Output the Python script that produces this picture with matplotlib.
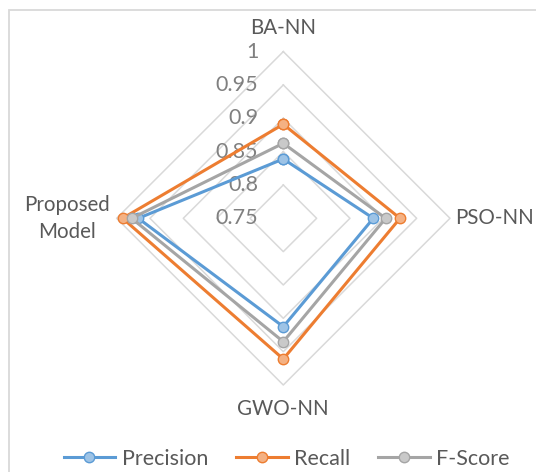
import numpy as np
import matplotlib.pyplot as plt
from matplotlib.patches import Rectangle

categories = ["BA-NN", "PSO-NN", "GWO-NN", "Proposed\nModel"]
precision = [0.839, 0.885, 0.9125, 0.9675]
recall = [0.891, 0.925, 0.961, 0.991]
f_score = [0.8625, 0.9035, 0.935, 0.9775]
levels = [0.75, 0.8, 0.85, 0.9, 0.95, 1.0]
level_labels = ["0.75", "0.8", "0.85", "0.9", "0.95", "1"]

series = [
    ("Precision", precision, "#5B9BD5", "#9DC3E6"),
    ("Recall", recall, "#ED7D31", "#F4B183"),
    ("F-Score", f_score, "#A5A5A5", "#C9C9C9"),
]

plt.rcParams["font.family"] = ["Lato", "DejaVu Sans"]
FS = 15.5
FS_CAT = 14.8

W, H, DPI = 536, 472, 100
fig = plt.figure(figsize=(W / DPI, H / DPI), dpi=DPI)

# chart-area border (top and left edges only visible)
fig.patches.append(Rectangle((8.5 / W, -0.2), 1.5, (H - 10) / H + 0.2,
                             transform=fig.transFigure, fill=False,
                             edgecolor="#D9D9D9", linewidth=1.3))

cx, cy, rad = 283.3, 218.3, 166.7
ax = fig.add_axes([(cx - rad) / W, (H - cy - rad) / H, 2 * rad / W, 2 * rad / H],
                  projection="polar")
ax.set_theta_zero_location("N")
ax.set_theta_direction(-1)
ax.set_ylim(levels[0], levels[-1])
ax.grid(False)
ax.spines["polar"].set_visible(False)
ax.set_xticks([])
ax.set_yticks([])
ax.patch.set_alpha(0)

angles = np.linspace(0, 2 * np.pi, len(categories), endpoint=False)
closed = np.append(angles, angles[0])

# diamond gridlines
for lvl in levels[1:]:
    ax.plot(closed, [lvl] * len(closed), color="#D9D9D9", lw=1.1,
            zorder=1, clip_on=False)

for lvl, lab in zip(levels, level_labels):
    ax.annotate(lab, xy=(0, lvl), xytext=(-18, 0), textcoords="offset points",
                ha="right", va="center", fontsize=FS, color="#808080",
                annotation_clip=False)

for name, vals, col, face in series:
    ax.plot(closed, vals + vals[:1], color=col, lw=2.2, marker="o",
            markersize=7.5, markerfacecolor=face, markeredgecolor=col,
            markeredgewidth=1.0, label=name, zorder=3, clip_on=False)

# category labels around the outer ring
offsets = [((0, 17), "center", "center"),
           ((4, 0), "left", "center"),
           ((0, -17), "center", "center"),
           ((-5, 0), "right", "center")]
for ang, cat, (off, ha, va) in zip(angles, categories, offsets):
    ax.annotate(cat, xy=(ang, levels[-1]), xytext=off, textcoords="offset points",
                ha=ha, va=va, multialignment="center", fontsize=FS_CAT,
                color="#595959", linespacing=1.4, annotation_clip=False)

fig.legend(loc="center", bbox_to_anchor=(0.535, 1 - 459 / H), ncol=3,
           frameon=False, fontsize=FS, handlelength=2.4, handletextpad=0.3,
           columnspacing=1.3, labelcolor="#595959")

fig.savefig("out.png", dpi=DPI)
